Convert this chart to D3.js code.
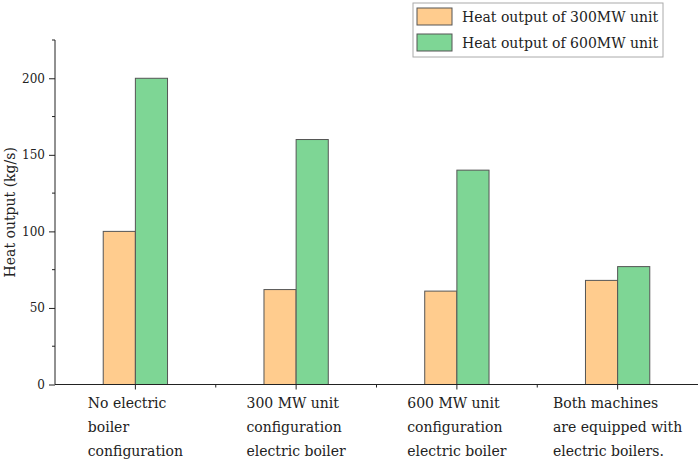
<!DOCTYPE html>
<html>
<head>
<meta charset="utf-8">
<script src="https://cdn.jsdelivr.net/npm/d3@7"></script>
<style>
  body { margin: 0; background: #fff; }
  text { font-family: "DejaVu Serif", serif; fill: #222; }
</style>
</head>
<body>
<script>
// chart data
var categories = [
	['No electric', 'boiler', 'configuration'],
	['300 MW unit', 'configuration', 'electric boiler'],
	['600 MW unit', 'configuration', 'electric boiler'],
	['Both machines', 'are equipped with', 'electric boilers.']
];
var series = ['Heat output of 300MW unit', 'Heat output of 600MW unit'];
var unit300 = [100, 62, 61, 68];
var unit600 = [200, 160, 140, 77];
var yTicks = [0, 50, 100, 150, 200];
var colors = ['#FFCC8E', '#7ED695'];

var width = 699, height = 462;
var mLeft = 55, mRight = 698, mTop = 40, mBottom = 384.5;

var svg = d3.select('body').append('svg')
		.attr('width', width)
		.attr('height', height);

var y = d3.scaleLinear()
	.domain([0, 225])
	.range([mBottom, mTop]);
var x = d3.scaleBand()
	.domain(d3.range(categories.length))
	.range([mLeft, mRight]);
var barW = x.bandwidth() * 0.2;

// bars
var values = [unit300, unit600];
values.forEach(function(vals, s) {
	svg.append('g').selectAll('rect')
		.data(vals)
		.enter().append('rect')
			.attr('x', function(d, i) { return x(i) + x.bandwidth() / 2 + (s - 1) * barW; })
			.attr('y', function(d) { return y(d); })
			.attr('width', barW)
			.attr('height', function(d) { return mBottom - y(d); })
			.attr('fill', colors[s])
			.attr('stroke', '#555')
			.attr('stroke-width', 1);
});

// y axis, major + minor ticks
var yAxis = d3.axisLeft(y).tickValues(yTicks).tickSize(6).tickPadding(4);
var gy = svg.append('g')
	.attr('transform', 'translate(' + mLeft + ',0)')
	.call(yAxis);
gy.select('.domain').attr('d', 'M0,' + mBottom + 'V' + mTop).attr('stroke', '#222');
gy.selectAll('.tick line').attr('stroke', '#222');
gy.selectAll('.tick text').style('font-size', '12px').attr('fill', '#333');
svg.append('g').selectAll('line')
	.data([25, 75, 125, 175, 225])
	.enter().append('line')
		.attr('x1', mLeft - 3).attr('x2', mLeft)
		.attr('y1', function(d) { return y(d); })
		.attr('y2', function(d) { return y(d); })
		.attr('stroke', '#222');

// x axis
svg.append('line')
	.attr('x1', mLeft).attr('x2', mRight)
	.attr('y1', mBottom).attr('y2', mBottom)
	.attr('stroke', '#222');
svg.append('g').selectAll('line')
	.data(d3.range(categories.length))
	.enter().append('line')
		.attr('x1', function(i) { return x(i) + x.bandwidth() / 2; })
		.attr('x2', function(i) { return x(i) + x.bandwidth() / 2; })
		.attr('y1', mBottom).attr('y2', mBottom + 5)
		.attr('stroke', '#222');
svg.append('g').selectAll('line')
	.data(d3.range(1, categories.length))
	.enter().append('line')
		.attr('x1', function(i) { return x(i); })
		.attr('x2', function(i) { return x(i); })
		.attr('y1', mBottom).attr('y2', mBottom + 3)
		.attr('stroke', '#222');

// category labels: left aligned lines, block centred under the tick
categories.forEach(function(lines, i) {
	var g = svg.append('g');
	var t = g.selectAll('text')
		.data(lines)
		.enter().append('text')
			.attr('y', function(d, k) { return 408 + k * 24; })
			.style('font-size', '14px')
			.text(function(d) { return d; });
	var w = d3.max(t.nodes(), function(n) { return n.getComputedTextLength(); });
	t.attr('x', x(i) + x.bandwidth() / 2 - w / 2);
});

// y title
svg.append('text')
	.attr('transform', 'translate(15,' + ((mTop + mBottom) / 2) + ') rotate(-90)')
	.attr('text-anchor', 'middle')
	.style('font-size', '14px')
	.text('Heat output (kg/s)');

// legend
var lg = svg.append('g');
lg.append('rect')
	.attr('x', 413).attr('y', 3)
	.attr('width', 250).attr('height', 54)
	.attr('fill', '#fff').attr('stroke', '#aaa');
series.forEach(function(name, s) {
	lg.append('rect')
		.attr('x', 417).attr('y', 8 + s * 26)
		.attr('width', 35).attr('height', 17)
		.attr('fill', colors[s]).attr('stroke', '#555');
	lg.append('text')
		.attr('x', 462).attr('y', 22 + s * 26)
		.style('font-size', '14px')
		.text(name);
});
</script>
</body>
</html>
